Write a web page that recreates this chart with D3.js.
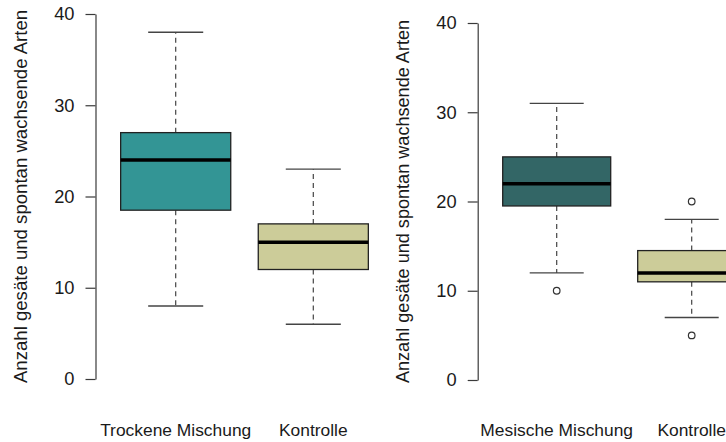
<!DOCTYPE html>
<html>
<head>
<meta charset="utf-8">
<script src="https://cdn.jsdelivr.net/npm/d3@7"></script>
<style>
  html, body { margin: 0; padding: 0; background: #fff; }
  svg { display: block; font-family: "Liberation Sans", Arial, sans-serif; }
</style>
</head>
<body>
<svg id="chart" width="726" height="442"></svg>
<script>
// Box statistics per panel: [lower whisker, Q1, median, Q3, upper whisker]
const dryCategories = ["Trockene Mischung", "Kontrolle"];
const dryStats = [
  [8, 18.5, 24, 27, 38],
  [6, 12, 15, 17, 23]
];
const dryOutliers = [[], []];

const mesicCategories = ["Mesische Mischung", "Kontrolle"];
const mesicStats = [
  [12, 19.5, 22, 25, 31],
  [7, 11, 12, 14.5, 18]
];
const mesicOutliers = [[10], [20, 5]];

const yTicks = [0, 10, 20, 30, 40];
const yTitle = "Anzahl gesäte und spontan wachsende Arten";

const dryFills = ["#339595", "#cccc99"];
const mesicFills = ["#336666", "#cccc99"];

const svg = d3.select("#chart");

function panel(cfg) {
  const g = svg.append("g");
  const x = d3.scaleLinear().domain([1, 2]).range(cfg.xr);
  const y = d3.scaleLinear().domain([0, 40]).range(cfg.yr);

  // y axis
  const ax = g.append("g")
    .attr("transform", `translate(${cfg.axisX},0)`)
    .call(d3.axisLeft(y).tickValues(yTicks).tickSize(10).tickSizeOuter(0).tickPadding(11));
  ax.select(".domain").attr("stroke", "#3a3a3a").attr("stroke-width", 1.2);
  ax.selectAll(".tick line").attr("stroke", "#3a3a3a").attr("stroke-width", 1.2);
  ax.selectAll(".tick text")
    .attr("font-size", 18.3)
    .attr("font-family", "Liberation Sans, Arial, sans-serif")
    .attr("fill", "#1a1a1a");

  // y title
  g.append("text")
    .attr("transform", `translate(${cfg.titleX},${(cfg.yr[0] + cfg.yr[1]) / 2}) rotate(-90)`)
    .attr("text-anchor", "middle")
    .attr("dominant-baseline", "central")
    .attr("font-size", cfg.titleSize)
    .attr("fill", "#1a1a1a")
    .text(yTitle);

  const boxW = 0.8 * (x(2) - x(1));

  cfg.stats.forEach((s, i) => {
    const cx = x(i + 1);
    const [lo, q1, med, q3, hi] = s;
    const bg = g.append("g");

    // dashed whiskers
    bg.append("line")
      .attr("x1", cx).attr("x2", cx).attr("y1", y(q3)).attr("y2", y(hi))
      .attr("stroke", "#444").attr("stroke-width", 1.2).attr("stroke-dasharray", "5,4");
    bg.append("line")
      .attr("x1", cx).attr("x2", cx).attr("y1", y(q1)).attr("y2", y(lo))
      .attr("stroke", "#444").attr("stroke-width", 1.2).attr("stroke-dasharray", "5,4");

    // whisker caps
    [lo, hi].forEach(v => {
      bg.append("line")
        .attr("x1", cx - boxW / 4).attr("x2", cx + boxW / 4)
        .attr("y1", y(v)).attr("y2", y(v))
        .attr("stroke", "#444").attr("stroke-width", 1.4);
    });

    // box
    bg.append("rect")
      .attr("x", cx - boxW / 2).attr("width", boxW)
      .attr("y", y(q3)).attr("height", y(q1) - y(q3))
      .attr("fill", cfg.fills[i]).attr("stroke", "#222").attr("stroke-width", 1.3);

    // median
    bg.append("line")
      .attr("x1", cx - boxW / 2).attr("x2", cx + boxW / 2)
      .attr("y1", y(med)).attr("y2", y(med))
      .attr("stroke", "#000").attr("stroke-width", 3.5);

    // outliers
    cfg.outliers[i].forEach(v => {
      bg.append("circle")
        .attr("cx", cx).attr("cy", y(v)).attr("r", 3.3)
        .attr("fill", "none").attr("stroke", "#333").attr("stroke-width", 1.2);
    });

    // category label
    g.append("text")
      .attr("x", cx).attr("y", cfg.labelY)
      .attr("text-anchor", "middle")
      .attr("font-size", 17.4)
      .attr("fill", "#1a1a1a")
      .text(cfg.categories[i]);
  });
}

panel({
  categories: dryCategories, stats: dryStats, outliers: dryOutliers, fills: dryFills,
  xr: [175.7, 313.3], yr: [379, 14], axisX: 95.5, titleX: 20, labelY: 436, titleSize: 18.6
});
panel({
  categories: mesicCategories, stats: mesicStats, outliers: mesicOutliers, fills: mesicFills,
  xr: [556.7, 691.7], yr: [380, 23], axisX: 477.7, titleX: 403, labelY: 436, titleSize: 18.1
});
</script>
</body>
</html>
